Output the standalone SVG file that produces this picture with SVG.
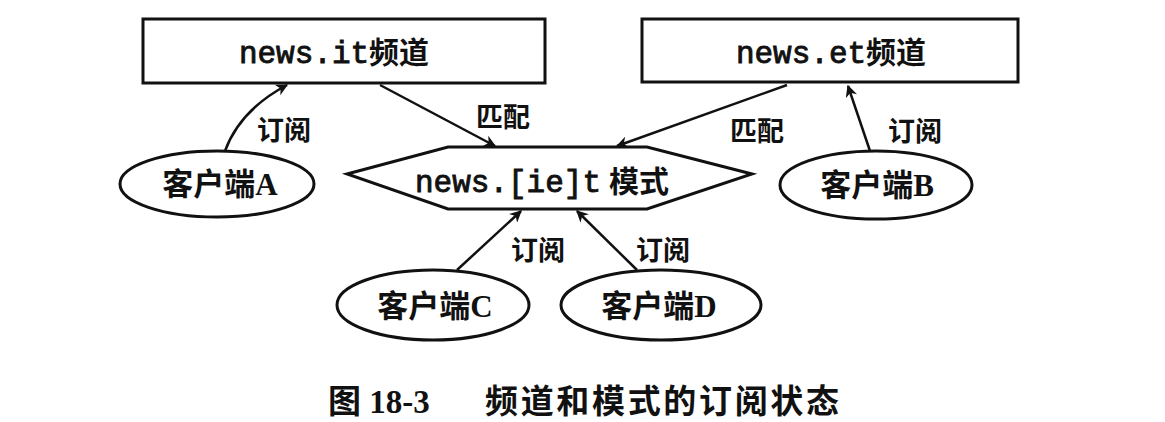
<svg xmlns="http://www.w3.org/2000/svg" width="1165" height="422" viewBox="0 0 1165 422">
<style>
.box{fill:#fff;stroke:#111;stroke-width:3}
.ell{fill:#fff;stroke:#111;stroke-width:3}
.mono{font-family:"Liberation Mono","Noto Sans CJK SC",monospace;font-size:31px;fill:#111;stroke:#111;stroke-width:0.9}
.cj{font-family:"Noto Sans CJK SC",sans-serif;font-weight:bold;font-size:30px;fill:#111;stroke:none}
.cl{font-family:"Liberation Serif","Noto Sans CJK SC",serif;font-weight:bold;font-size:31px;fill:#111}
.lbl{font-family:"Noto Sans CJK SC",sans-serif;font-weight:bold;font-size:27px;fill:#111}
.edge{fill:none;stroke:#111;stroke-width:2.5}
.cap{font-family:"Liberation Serif","Noto Sans CJK SC",serif;font-weight:bold;font-size:33px;fill:#111}
</style>
<defs>
<marker id="ah" viewBox="0 0 10 10" refX="9" refY="5" markerWidth="14" markerHeight="12" markerUnits="userSpaceOnUse" orient="auto">
<path d="M0,0 L10,5 L0,10 L3,5 z" fill="#111"/>
</marker>
</defs>
<g id="n-it">
<rect class="box" x="143" y="19" width="402" height="64"/>
<text class="mono" x="334" y="63" text-anchor="middle">news.it<tspan class="cj">频道</tspan></text>
</g>
<g id="n-et">
<rect class="box" x="642" y="19" width="376" height="63"/>
<text class="mono" x="831" y="63" text-anchor="middle">news.et<tspan class="cj">频道</tspan></text>
</g>
<g id="n-pattern">
<polygon class="box" points="347,174 448,147 647,147 752,174 647,209 448,209"/>
<text class="mono" x="542" y="192" text-anchor="middle">news.[ie]t<tspan class="cj" dx="8">模式</tspan></text>
</g>
<g id="n-a">
<ellipse class="ell" cx="217" cy="184" rx="97" ry="33"/>
<text class="cl" x="220" y="195" text-anchor="middle">客户端A</text>
</g>
<g id="n-b">
<ellipse class="ell" cx="876" cy="185" rx="96" ry="34"/>
<text class="cl" x="877" y="196" text-anchor="middle">客户端B</text>
</g>
<g id="n-c">
<ellipse class="ell" cx="433" cy="305" rx="96" ry="35"/>
<text class="cl" x="435" y="317" text-anchor="middle">客户端C</text>
</g>
<g id="n-d">
<ellipse class="ell" cx="661" cy="305" rx="100" ry="35"/>
<text class="cl" x="659" y="317" text-anchor="middle">客户端D</text>
</g>
<g id="edges">
<path class="edge" d="M225,151 Q240,110 287,85" marker-end="url(#ah)"/>
<line class="edge" x1="380" y1="85" x2="495" y2="146" marker-end="url(#ah)"/>
<line class="edge" x1="787" y1="85" x2="617" y2="146" marker-end="url(#ah)"/>
<line class="edge" x1="870" y1="151" x2="848" y2="86" marker-end="url(#ah)"/>
<line class="edge" x1="457" y1="270" x2="521" y2="211" marker-end="url(#ah)"/>
<line class="edge" x1="637" y1="270" x2="577" y2="211" marker-end="url(#ah)"/>
<text class="lbl" x="284" y="140" text-anchor="middle">订阅</text>
<text class="lbl" x="503" y="127" text-anchor="middle">匹配</text>
<text class="lbl" x="757" y="141" text-anchor="middle">匹配</text>
<text class="lbl" x="915" y="141" text-anchor="middle">订阅</text>
<text class="lbl" x="538" y="260" text-anchor="middle">订阅</text>
<text class="lbl" x="663" y="260" text-anchor="middle">订阅</text>
</g>
<text class="cap" x="328" y="413">图 18-3<tspan x="485" font-family="Noto Sans CJK SC, serif" textLength="354" lengthAdjust="spacing">频道和模式的订阅状态</tspan></text>
</svg>
